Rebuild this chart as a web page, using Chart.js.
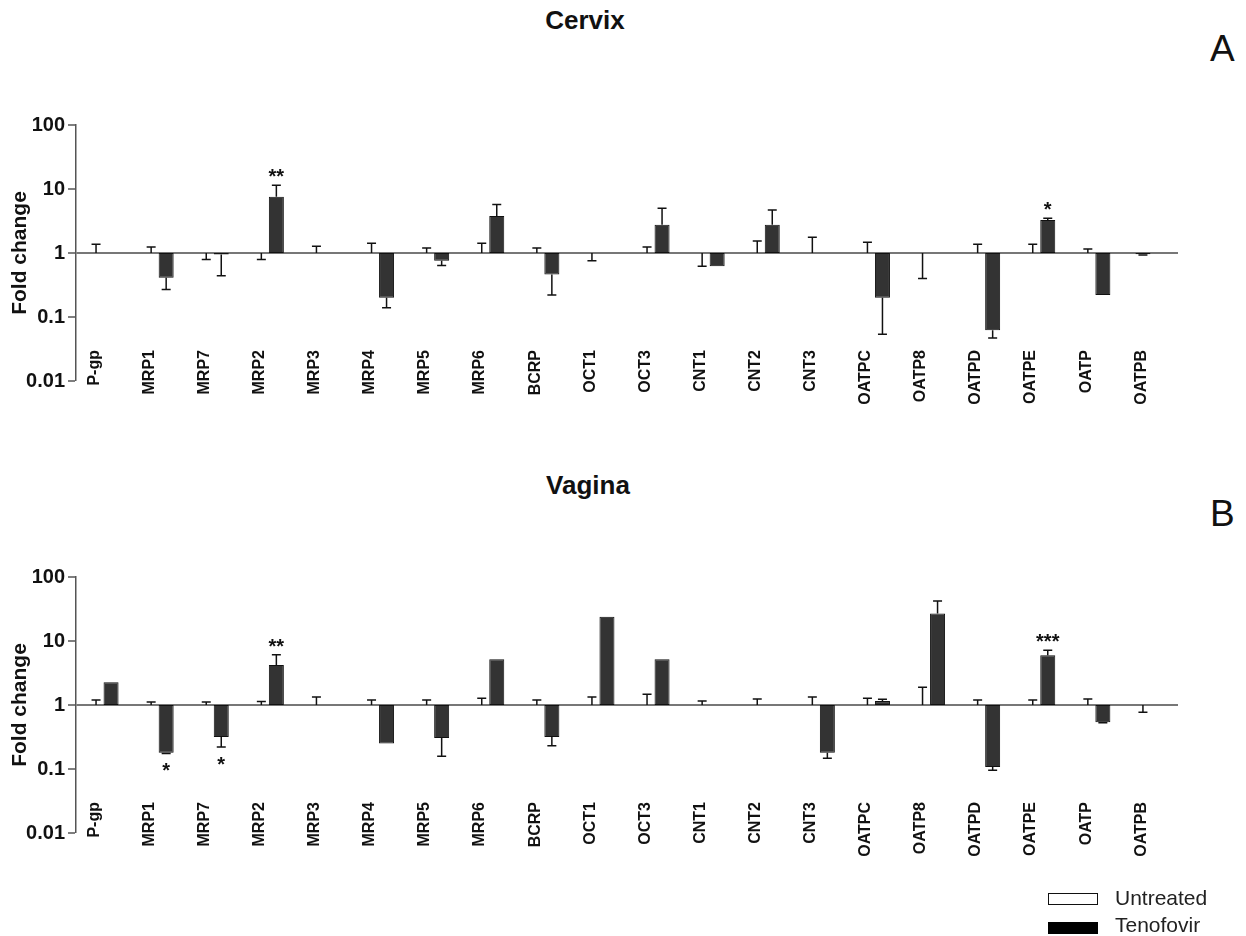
<!DOCTYPE html>
<html>
<head>
<meta charset="utf-8">
<script src="https://cdn.jsdelivr.net/npm/chart.js@4.4.1/dist/chart.umd.min.js"></script>
<style>
  body { margin: 0; background: #fff; width: 1246px; height: 936px; position: relative; overflow: hidden; font-family: "Liberation Sans", Arial, sans-serif; }
  .wrap { position: absolute; left: 0; width: 1246px; }
  .title { position: absolute; font-weight: bold; font-size: 26px; line-height: 1; color: #111; transform: translateX(-50%); white-space: nowrap; }
  .letter { position: absolute; font-size: 37px; line-height: 1; color: #111; }
  .legend-row { position: absolute; left: 1048px; font-size: 21px; line-height: 1; color: #222; }
  .legend-row span.box { position: absolute; left: 0; width: 50px; height: 12px; box-sizing: border-box; }
  .legend-row span.txt { position: absolute; left: 67px; white-space: nowrap; }
</style>
</head>
<body>
<div class="title" style="left:585px; top:7px;">Cervix</div>
<div class="letter" style="left:1210px; top:30px;">A</div>
<div class="wrap" style="top:0; height:440px;"><canvas id="cervixChart"></canvas></div>

<div class="title" style="left:588px; top:472px;">Vagina</div>
<div class="letter" style="left:1210px; top:495px;">B</div>
<div class="wrap" style="top:452px; height:484px;"><canvas id="vaginaChart"></canvas></div>

<div class="legend-row" style="top:893px;"><span class="box" style="background:#fff;border:1px solid #111;"></span><span class="txt" style="top:-6px;">Untreated</span></div>
<div class="legend-row" style="top:922px;"><span class="box" style="background:#000;"></span><span class="txt" style="top:-8px;">Tenofovir</span></div>

<script>
const genes = ['P-gp', 'MRP1', 'MRP7', 'MRP2', 'MRP3', 'MRP4', 'MRP5', 'MRP6', 'BCRP', 'OCT1', 'OCT3', 'CNT1', 'CNT2', 'CNT3', 'OATPC', 'OATP8', 'OATPD', 'OATPE', 'OATP', 'OATPB'];
const yTicks = [0.01, 0.1, 1, 10, 100];

// Cervix
const cervixUntreated = [1, 1, 1, 1, 1, 1, 1, 1, 1, 1, 1, 1, 1, 1, 1, 1, 1, 1, 1, 0.96];
const cervixUntreatedErr = [1.37, 1.24, 0.79, 0.79, 1.27, 1.42, 1.2, 1.42, 1.2, 0.76, 1.24, 0.62, 1.54, 1.76, 1.47, 0.40, 1.37, 1.37, 1.15, 0.93];
const cervixTenofovir = [null, 0.41, 0.95, 7.6, null, 0.2, 0.76, 3.78, 0.46, null, 2.77, 0.62, 2.77, null, 0.2, null, 0.062, 3.28, 0.22, null];
const cervixTenofovirErr = [null, 0.27, 0.44, 11.4, null, 0.14, 0.64, 5.7, 0.22, null, 5.0, null, 4.7, null, 0.054, null, 0.047, 3.5, null, null];
const cervixSig = ['', '', '', '**', '', '', '', '', '', '', '', '', '', '', '', '', '', '*', '', ''];

// Vagina
const vaginaUntreated = [1, 1, 1, 1, 1, 1, 1, 1, 1, 1, 1, 1, 1, 1, 1, 1, 1, 1, 1, 1];
const vaginaUntreatedErr = [1.2, 1.11, 1.11, 1.13, 1.33, 1.2, 1.2, 1.28, 1.2, 1.33, 1.47, 1.15, 1.24, 1.33, 1.28, 1.89, 1.2, 1.2, 1.24, 0.77];
const vaginaTenofovir = [2.26, 0.18, 0.316, 4.2, null, 0.25, 0.305, 5.2, 0.316, 24, 5.2, null, null, 0.18, 1.15, 27, 0.107, 5.97, 0.54, null];
const vaginaTenofovirErr = [null, 0.175, 0.22, 6.1, null, null, 0.158, null, 0.23, null, null, null, null, 0.147, 1.23, 42, 0.096, 7.15, 0.53, null];
const vaginaSig = ['', '*', '*', '**', '', '', '', '', '', '', '', '', '', '', '', '', '', '***', '', ''];

// error bars + significance stars
const errorBarPlugin = {
    id: 'errorBars',
    afterDatasetsDraw(chart) {
        const ctx = chart.ctx;
        const y = chart.scales.y;
        chart.data.datasets.forEach((ds, i) => {
            const meta = chart.getDatasetMeta(i);
            meta.data.forEach((bar, j) => {
                const mean = ds.means[j];
                const err = ds.errs[j];
                let endY = mean != null ? y.getPixelForValue(mean) : null;
                if (mean != null && err != null) {
                    const y0 = y.getPixelForValue(mean);
                    const y1 = y.getPixelForValue(err);
                    ctx.save();
                    ctx.strokeStyle = '#111';
                    ctx.lineWidth = 1.5;
                    ctx.beginPath();
                    ctx.moveTo(bar.x, y0);
                    ctx.lineTo(bar.x, y1);
                    ctx.moveTo(bar.x - 4.5, y1);
                    ctx.lineTo(bar.x + 4.5, y1);
                    ctx.stroke();
                    ctx.restore();
                    endY = y1;
                }
                const sig = ds.sig ? ds.sig[j] : '';
                if (sig && endY != null) {
                    const up = (err != null ? err : mean) >= 1;
                    ctx.save();
                    ctx.fillStyle = '#111';
                    ctx.font = 'bold 20px "Liberation Sans", Arial';
                    ctx.textAlign = 'center';
                    ctx.textBaseline = 'alphabetic';
                    const centre = up ? endY - 13 : endY + 13;
                    ctx.fillText(sig, bar.x, centre + 11);
                    ctx.restore();
                }
            });
        });
    }
};

function makeChart(canvasId, untreated, untreatedErr, tenofovir, tenofovirErr, sig, padTop, padBottom) {
    const ctx = document.getElementById(canvasId).getContext('2d');
    return new Chart(ctx, {
        type: 'bar',
        data: {
            labels: genes,
            datasets: [{
                label: 'Untreated',
                data: untreated.map(v => v == null ? null : [1, v]),
                means: untreated,
                errs: untreatedErr,
                backgroundColor: '#ffffff',
                borderColor: '#111',
                borderWidth: 1,
                borderSkipped: false
            }, {
                label: 'Tenofovir',
                data: tenofovir.map(v => v == null ? null : [1, v]),
                means: tenofovir,
                errs: tenofovirErr,
                sig: sig,
                backgroundColor: '#333333',
                borderColor: '#111',
                borderWidth: 1,
                borderSkipped: false
            }]
        },
        options: {
            responsive: true,
            maintainAspectRatio: false,
            animation: false,
            layout: { padding: { top: padTop, bottom: padBottom, left: 0, right: 68 } },
            plugins: {
                legend: { display: false },
                tooltip: { enabled: false }
            },
            datasets: {
                bar: { categoryPercentage: 0.545, barPercentage: 1 }
            },
            scales: {
                x: {
                    grid: { display: false },
                    border: { display: false },
                    ticks: {
                        autoSkip: false,
                        mirror: true,   // keeps the labels from being clipped to the zero-height axis box
                        minRotation: 90,
                        maxRotation: 90,
                        padding: 31,
                        labelOffset: 10,
                        color: '#111',
                        font: { family: '"Liberation Sans", Arial', size: 16, weight: 'bold' }
                    },
                    afterFit: scale => { scale.height = 0; }
                },
                y: {
                    type: 'logarithmic',
                    min: 0.01,
                    max: 100,
                    afterBuildTicks: scale => { scale.ticks = yTicks.map(v => ({ value: v })); },
                    afterFit: scale => { scale.width = 76; },
                    border: { display: true, color: '#555', width: 1.5 },
                    grid: {
                        drawTicks: true,
                        tickLength: 8,
                        tickColor: '#555',
                        tickWidth: 1.5,
                        color: c => (c.tick && c.tick.value === 1) ? '#777' : 'rgba(0,0,0,0)',
                        lineWidth: c => (c.tick && c.tick.value === 1) ? 2 : 0
                    },
                    ticks: {
                        padding: 3,
                        color: '#111',
                        font: { family: '"Liberation Sans Narrow", "Liberation Sans", Arial', size: 20, weight: 'bold' },
                        callback: v => String(v)
                    },
                    title: {
                        display: true,
                        text: 'Fold change',
                        color: '#111',
                        padding: { top: 8, bottom: 0 },
                        font: { family: '"Liberation Sans", Arial', size: 21, weight: 'bold' }
                    }
                }
            }
        },
        plugins: [errorBarPlugin]
    });
}

// chart area: cervix 125..381, vagina 577..833 (page coords)
makeChart('cervixChart', cervixUntreated, cervixUntreatedErr, cervixTenofovir, cervixTenofovirErr, cervixSig, 125, 59);
makeChart('vaginaChart', vaginaUntreated, vaginaUntreatedErr, vaginaTenofovir, vaginaTenofovirErr, vaginaSig, 125, 103);
</script>
</body>
</html>
